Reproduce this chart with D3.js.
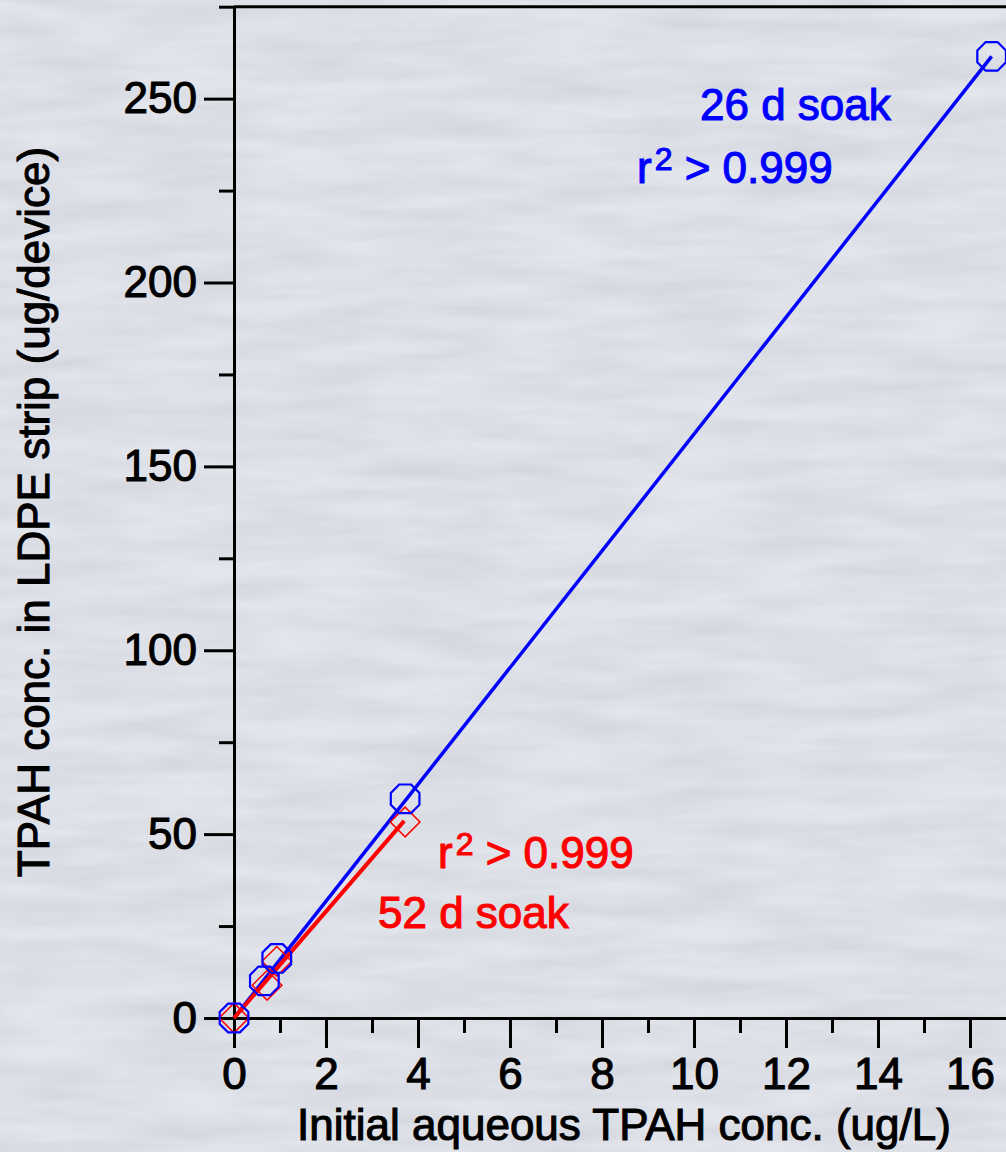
<!DOCTYPE html>
<html>
<head>
<meta charset="utf-8">
<script src="https://cdn.jsdelivr.net/npm/d3@7"></script>
<style>
  body { margin: 0; background: #dfe2e9; }
  svg { display: block; }
  text { font-family: "Liberation Sans", Arial, Helvetica, sans-serif; }
</style>
</head>
<body>
<div id="chart"></div>
<script>

//******************************************************************************
//**  Data
//******************************************************************************
  var xTicks = [0, 2, 4, 6, 8, 10, 12, 14, 16];
  var xMinorTicks = [1, 3, 5, 7, 9, 11, 13, 15];
  var yTicks = [0, 50, 100, 150, 200, 250];
  var yMinorTicks = [25, 75, 125, 175, 225, 275];

  //26 d soak (blue octagons)
  var soak26X = [0, 0.66, 0.93, 3.72, 16.47];
  var soak26Y = [0, 10.1, 16.2, 59.6, 261.5];
  var fit26X = [0, 16.47];
  var fit26Y = [0, 261.5];

  //52 d soak (red diamonds)
  var soak52X = [0, 0.72, 0.93, 3.72];
  var soak52Y = [0, 8.9, 15.4, 53.3];
  var fit52X = [0, 3.7];
  var fit52Y = [0, 53.6];

  var xTitle = "Initial aqueous TPAH conc. (ug/L)";
  var yTitle = "TPAH conc. in LDPE strip (ug/device)";


//******************************************************************************
//**  Chart
//******************************************************************************
  var width = 1006, height = 1152;
  var blue = "#0000ff", red = "#ff0000";
  var textStroke = 1.1;

  var svg = d3.select("#chart").append("svg")
    .attr("width", width)
    .attr("height", height);

  //Background (water texture)
  var defs = svg.append("defs");
  var filter = defs.append("filter")
    .attr("id", "water")
    .attr("x", 0).attr("y", 0).attr("width", "100%").attr("height", "100%");
  filter.append("feTurbulence")
    .attr("type", "fractalNoise")
    .attr("baseFrequency", "0.008 0.05")
    .attr("numOctaves", 3)
    .attr("seed", 7)
    .attr("result", "noise");
  filter.append("feColorMatrix")
    .attr("in", "noise")
    .attr("type", "matrix")
    .attr("values", "0 0 0 0 0.55  0 0 0 0 0.57  0 0 0 0 0.62  0 0 0 0.8 -0.22");

  svg.append("rect")
    .attr("width", width).attr("height", height)
    .attr("fill", "#e2e5ec");
  svg.append("rect")
    .attr("width", width).attr("height", height)
    .attr("filter", "url(#water)");

  var x = d3.scaleLinear().domain([0, 16.8]).range([234, 1006.8]);
  var y = d3.scaleLinear().domain([0, 275]).range([1018, 6.7]);

  //Axes
  var drawAxis = function(axis, transform, labels){
    var g = svg.append("g")
      .attr("transform", transform)
      .call(axis);
    g.select(".domain").attr("stroke", "#000").attr("stroke-width", 3);
    g.selectAll(".tick line").attr("stroke", "#000").attr("stroke-width", 3);
    g.selectAll(".tick text")
      .attr("fill", "#000")
      .attr("stroke", "#000")
      .attr("stroke-width", textStroke)
      .style("font-size", "44px");
    if (!labels) g.selectAll(".tick text").remove();
    return g;
  };

  drawAxis(d3.axisBottom(x).tickValues(xMinorTicks).tickSize(15).tickSizeOuter(0),
    "translate(0," + y(0) + ")", false);
  drawAxis(d3.axisBottom(x).tickValues(xTicks).tickSize(30).tickSizeOuter(0).tickPadding(10)
    .tickFormat(d3.format("d")), "translate(0," + y(0) + ")", true);

  drawAxis(d3.axisLeft(y).tickValues(yMinorTicks).tickSize(15).tickSizeOuter(0),
    "translate(" + x(0) + ",0)", false);
  drawAxis(d3.axisLeft(y).tickValues(yTicks).tickSize(30).tickSizeOuter(0).tickPadding(7)
    .tickFormat(d3.format("d")), "translate(" + x(0) + ",0)", true);

  //Top frame
  svg.append("line")
    .attr("x1", x(0)).attr("x2", width)
    .attr("y1", y(275)).attr("y2", y(275))
    .attr("stroke", "#000").attr("stroke-width", 3);

  //Axis titles
  svg.append("text")
    .attr("x", 624).attr("y", 1140)
    .attr("text-anchor", "middle")
    .attr("fill", "#000").attr("stroke", "#000").attr("stroke-width", textStroke)
    .style("font-size", "44px")
    .text(xTitle);

  svg.append("text")
    .attr("transform", "translate(49,512) rotate(-90)")
    .attr("text-anchor", "middle")
    .attr("fill", "#000").attr("stroke", "#000").attr("stroke-width", textStroke)
    .style("font-size", "44px")
    .text(yTitle);

  //Fit lines
  var line = d3.line()
    .x(function(d){ return x(d[0]); })
    .y(function(d){ return y(d[1]); });

  svg.append("path")
    .attr("d", line(d3.zip(fit26X, fit26Y)))
    .attr("fill", "none").attr("stroke", blue).attr("stroke-width", 3.5);

  svg.append("path")
    .attr("d", line(d3.zip(fit52X, fit52Y)))
    .attr("fill", "none").attr("stroke", red).attr("stroke-width", 4);

  //Markers
  var octagon = function(r){
    var pts = d3.range(8).map(function(i){
      var a = Math.PI / 8 + i * Math.PI / 4;
      return [r * Math.cos(a), r * Math.sin(a)];
    });
    return "M" + pts.join("L") + "Z";
  };

  svg.append("g").selectAll("path")
    .data(d3.zip(soak52X, soak52Y))
    .join("path")
    .attr("transform", function(d){ return "translate(" + x(d[0]) + "," + y(d[1]) + ") rotate(45)"; })
    .attr("d", d3.symbol(d3.symbolSquare, 440))
    .attr("fill", "none").attr("stroke", red).attr("stroke-width", 1.5);

  svg.append("g").selectAll("path")
    .data(d3.zip(soak26X, soak26Y))
    .join("path")
    .attr("transform", function(d){ return "translate(" + x(d[0]) + "," + y(d[1]) + ")"; })
    .attr("d", octagon(15.5))
    .attr("fill", "none").attr("stroke", blue).attr("stroke-width", 2.2);

  //Annotations
  var annotate = function(px, py, color, parts){
    var t = svg.append("text")
      .attr("x", px).attr("y", py)
      .attr("fill", color).attr("stroke", color).attr("stroke-width", textStroke)
      .style("font-size", "44px");
    parts.forEach(function(p){
      var s = t.append("tspan").text(p.text);
      if (p.sup) s.style("font-size", "32px").attr("dx", 3).attr("dy", -13);
      if (p.down) s.attr("dy", 13);
    });
  };

  annotate(700, 120, blue, [{text: "26 d soak"}]);
  annotate(637, 183, blue, [{text: "r"}, {text: "2", sup: true}, {text: " > 0.999", down: true}]);
  annotate(438, 868, red, [{text: "r"}, {text: "2", sup: true}, {text: " > 0.999", down: true}]);
  annotate(378, 928, red, [{text: "52 d soak"}]);

</script>
</body>
</html>
